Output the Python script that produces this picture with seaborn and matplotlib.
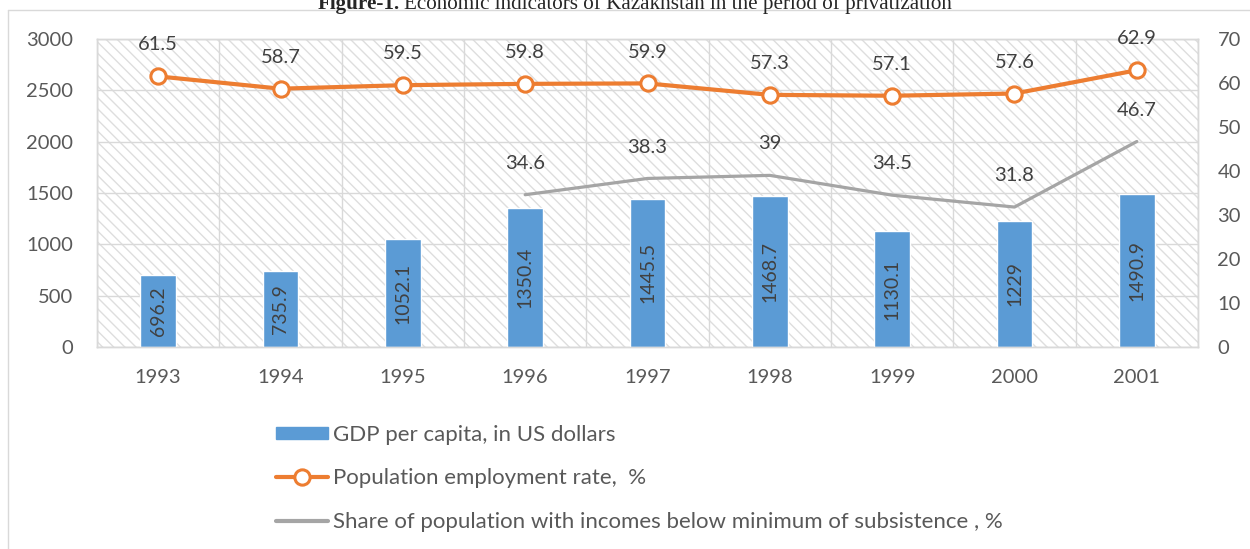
import numpy as np
import pandas as pd
import matplotlib
matplotlib.use("Agg")
import matplotlib.pyplot as plt
from matplotlib.patches import Rectangle, Patch
from matplotlib.lines import Line2D
import seaborn as sns

years = ["1993", "1994", "1995", "1996", "1997", "1998", "1999", "2000", "2001"]
gdp = [696.2, 735.9, 1052.1, 1350.4, 1445.5, 1468.7, 1130.1, 1229, 1490.9]
employment = [61.5, 58.7, 59.5, 59.8, 59.9, 57.3, 57.1, 57.6, 62.9]
poverty = [None, None, None, 34.6, 38.3, 39, 34.5, 31.8, 46.7]

labels = ["GDP per capita, in US dollars",
          "Population employment rate,  %",
          "Share of population with incomes below minimum of subsistence , %"]

BLUE = "#5B9BD5"
ORANGE = "#ED7D31"
GRAY = "#A5A5A5"
GRID = "#D9D9D9"
TXT = "#595959"
LBL = "#404040"

sns.set_style("white")
plt.rcParams["font.family"] = ["Lato", "DejaVu Sans"]
plt.rcParams["hatch.color"] = "#DEDEDE"
plt.rcParams["hatch.linewidth"] = 1.0

df = pd.DataFrame({"year": years, "gdp": gdp, "emp": employment,
                   "pov": pd.to_numeric(pd.Series(poverty), errors="coerce")})
df["pos"] = np.arange(len(df))

fig = plt.figure(figsize=(12.5, 5.49), dpi=100)
ax1 = fig.add_axes([0.0776, 0.368, 0.8808, 0.561])
ax2 = ax1.twinx()

# hatched plot area
ax1.add_patch(Rectangle((0, 0), 1, 1, transform=ax1.transAxes, facecolor="white",
                        edgecolor="#DEDEDE", hatch="\\\\\\", lw=0, zorder=0))

sns.barplot(data=df, x="year", y="gdp", color=BLUE, width=0.29, saturation=1,
            ax=ax1, zorder=3)
ax1.bar_label(ax1.containers[0], labels=[f"{v:g}" for v in gdp], label_type="center",
              rotation=90, fontsize=14, color=LBL)

sns.lineplot(data=df, x="pos", y="emp", ax=ax2, color=ORANGE, lw=3, marker="o",
             markersize=11, markerfacecolor="white", markeredgecolor=ORANGE,
             markeredgewidth=2.2, zorder=5)
pov = df.dropna(subset=["pov"])
sns.lineplot(data=pov, x="pos", y="pov", ax=ax2, color=GRAY, lw=2.3, zorder=4)

for x, v in zip(df["pos"], df["emp"]):
    ax2.annotate(f"{v:g}", (x, v), xytext=(0, 16.5), textcoords="offset points",
                 ha="center", va="bottom", fontsize=14.5, color=LBL)
for x, v in zip(pov["pos"], pov["pov"]):
    ax2.annotate(f"{v:g}", (x, v), xytext=(0, 16.5), textcoords="offset points",
                 ha="center", va="bottom", fontsize=14.5, color=LBL)

ax1.set_xlim(-0.5, len(years) - 0.5)
ax1.set_ylim(0, 3000)
ax1.set_yticks(np.arange(0, 3001, 500))
ax2.set_ylim(0, 70)
ax2.set_yticks(np.arange(0, 71, 10))

ax1.set_xticks(np.arange(-0.5, len(years), 1), minor=True)
ax1.grid(axis="y", which="major", color=GRID, lw=1, zorder=1)
ax1.grid(axis="x", which="minor", color=GRID, lw=1, zorder=1)
ax1.grid(axis="x", which="major", visible=False)
ax1.set_axisbelow(True)

ax1.tick_params(axis="x", which="major", length=0, pad=16, labelsize=14.5, labelcolor=TXT)
ax1.tick_params(axis="x", which="minor", length=6, color=GRID, width=1)
ax1.tick_params(axis="y", length=0, pad=17, labelsize=14.5, labelcolor=TXT)
ax2.tick_params(axis="y", length=0, pad=14, labelsize=14.5, labelcolor=TXT)
ax1.set_xlabel("")
ax1.set_ylabel("")
ax2.set_xlabel("")
ax2.set_ylabel("")

for a in (ax1, ax2):
    for s in a.spines.values():
        s.set_color(GRID)
        s.set_linewidth(1)

# legend
handles = [Patch(facecolor=BLUE, edgecolor=BLUE),
           Line2D([], [], color=ORANGE, lw=3, marker="o", markersize=11,
                  markerfacecolor="white", markeredgecolor=ORANGE, markeredgewidth=2.2),
           Line2D([], [], color=GRAY, lw=3)]
fig.legend(handles, labels, loc="upper left", bbox_to_anchor=(0.2208, 0.226),
           frameon=False, fontsize=16, labelcolor=TXT, handlelength=2.35,
           handleheight=0.5, handletextpad=0.2, labelspacing=1.06, borderpad=0,
           borderaxespad=0)

# outer chart frame (left and top edges visible in the crop)
fx, fy = 8 / 1250, 1 - 10 / 549
fig.add_artist(Line2D([fx, fx], [0, fy], transform=fig.transFigure, color=GRID, lw=1))
fig.add_artist(Line2D([fx, 1], [fy, fy], transform=fig.transFigure, color=GRID, lw=1))

# title, partly cut at the top as in the source
t1 = fig.text(318 / 1250, 1 - 9 / 549, "Figure-1.", fontsize=15.2, fontweight="bold",
              family="Liberation Serif", va="baseline", ha="left")
fig.canvas.draw()
bb = t1.get_window_extent()
fig.text(bb.x1 / 1250 + 4 / 1250, 1 - 9 / 549,
         "Economic indicators of Kazakhstan in the period of privatization",
         fontsize=15.2, family="Liberation Serif", va="baseline", ha="left")

fig.savefig("out.png", dpi=100)
